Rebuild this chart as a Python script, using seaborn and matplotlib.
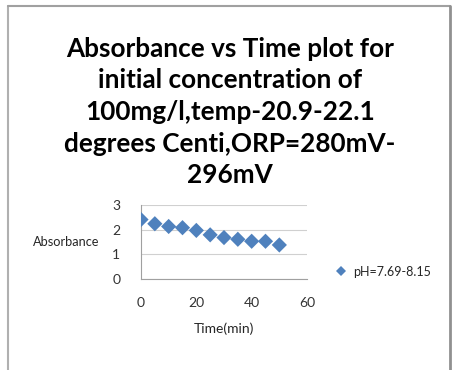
import matplotlib
matplotlib.use("Agg")
import matplotlib.pyplot as plt
import seaborn as sns
import pandas as pd
from matplotlib.lines import Line2D

time_min = [0, 5, 10, 15, 20, 25, 30, 35, 40, 45, 50]
absorbance = [2.41, 2.24, 2.13, 2.08, 1.97, 1.79, 1.68, 1.61, 1.53, 1.53, 1.38]
series_label = "pH=7.69-8.15"
title = ("Absorbance vs Time plot for\ninitial concentration of\n100mg/l,temp-20.9-22.1\n"
         "degrees Centi,ORP=280mV-\n296mV")
x_ticks = [0, 20, 40, 60]
y_ticks = [0, 1, 2, 3]

sns.set_style("white")
plt.rcParams['font.family'] = ['Lato', 'DejaVu Sans']

W, H = 466, 370
fig = plt.figure(figsize=(W / 100, H / 100), dpi=100)

# outer frame lines
fig.add_artist(Line2D([8 / W, 8 / W], [0, 1 - 6 / H], color="#b0b0b0", lw=1.5))
fig.add_artist(Line2D([8 / W, 450 / W], [1 - 6 / H, 1 - 6 / H], color="#a0a0a0", lw=1.5))
fig.add_artist(Line2D([450 / W, 450 / W], [0, 1 - 6 / H], color="#909090", lw=2))

fig.text(230 / W, 1 - 112 / H, title, ha="center", va="center", fontsize=18.8,
         fontweight="bold", linespacing=1.38, color="black")

x0, x1 = 141, 307
y0, y1 = 205, 279
ax = fig.add_axes([x0 / W, 1 - y1 / H, (x1 - x0) / W, (y1 - y0) / H])

df = pd.DataFrame({"Time(min)": time_min, "Absorbance": absorbance, "series": series_label})
sns.scatterplot(data=df, x="Time(min)", y="Absorbance", hue="series", palette=["#4F81BD"],
                marker="D", s=60, edgecolor="#4F81BD", linewidth=0, ax=ax, zorder=3)

ax.set_xlim(0, 60)
ax.set_ylim(0, 3)
ax.set_xticks(x_ticks)
ax.set_yticks(y_ticks)
ax.grid(axis="y", color="#d0d0d0", lw=0.8)
for s in ["top", "right"]:
    ax.spines[s].set_visible(False)
for s in ["left", "bottom"]:
    ax.spines[s].set_color("#a0a0a0")
    ax.spines[s].set_linewidth(0.8)
ax.tick_params(axis="both", which="both", length=3, color="#a0a0a0", direction="out",
               labelsize=10, labelcolor="#333333", pad=10)
ax.tick_params(axis="y", pad=12)
ax.set_xlabel("Time(min)", fontsize=10, labelpad=10)
ax.set_ylabel("Absorbance", fontsize=9.2, rotation=0, ha="right", va="center", labelpad=9)

leg = ax.legend(loc="center left", bbox_to_anchor=(1.06, 0.1), frameon=False,
                fontsize=9, handletextpad=0.0, markerscale=0.7, title=None)

fig.savefig("out.png", dpi=100, facecolor="white")
